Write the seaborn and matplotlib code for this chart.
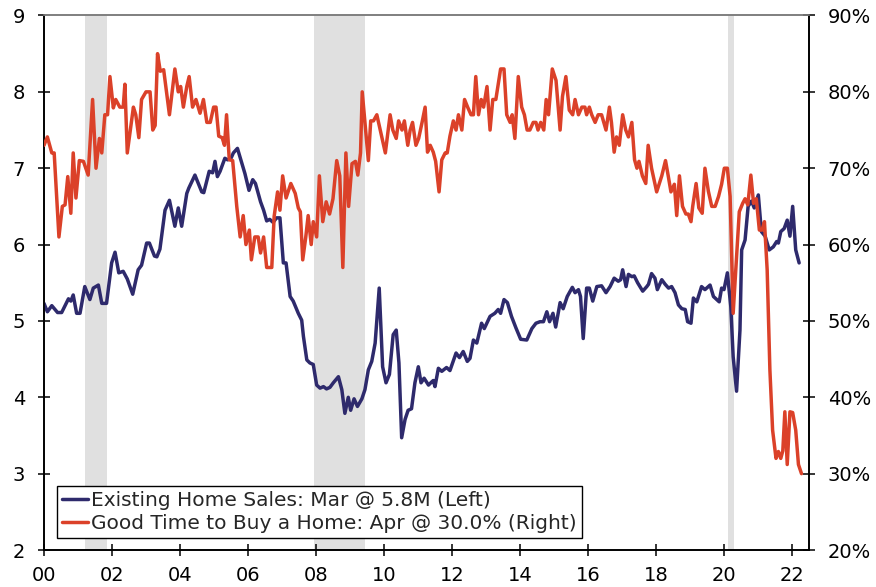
import matplotlib
matplotlib.use("Agg")
import matplotlib.pyplot as plt
import seaborn as sns

# Existing home sales, millions (left axis), by decimal year
SALES_YEAR = [
    2000.00, 2000.10, 2000.23, 2000.40, 2000.52, 2000.72, 2000.79, 2000.86, 2000.96, 2001.06,
    2001.20, 2001.35, 2001.45, 2001.60, 2001.70, 2001.84, 2001.99, 2002.09, 2002.20, 2002.33,
    2002.45, 2002.61, 2002.77, 2002.87, 2003.02, 2003.10, 2003.25, 2003.32, 2003.41, 2003.56,
    2003.69, 2003.85, 2003.95, 2004.05, 2004.20, 2004.26, 2004.44, 2004.64, 2004.70, 2004.86,
    2004.96, 2005.03, 2005.10, 2005.18, 2005.32, 2005.40, 2005.50, 2005.57, 2005.69, 2005.79,
    2005.91, 2006.03, 2006.14, 2006.22, 2006.37, 2006.46, 2006.55, 2006.64, 2006.74, 2006.84,
    2006.94, 2007.04, 2007.12, 2007.24, 2007.33, 2007.48, 2007.58, 2007.63, 2007.73, 2007.82,
    2007.92, 2008.02, 2008.12, 2008.22, 2008.31, 2008.41, 2008.51, 2008.66, 2008.76, 2008.85,
    2008.95, 2009.02, 2009.12, 2009.22, 2009.35, 2009.44, 2009.54, 2009.64, 2009.74, 2009.86,
    2009.96, 2010.06, 2010.16, 2010.27, 2010.36, 2010.44, 2010.52, 2010.62, 2010.71, 2010.81,
    2010.91, 2011.01, 2011.09, 2011.18, 2011.31, 2011.40, 2011.45, 2011.50, 2011.60, 2011.70,
    2011.84, 2011.94, 2012.12, 2012.22, 2012.33, 2012.45, 2012.53, 2012.63, 2012.73, 2012.87,
    2012.95, 2013.12, 2013.26, 2013.36, 2013.43, 2013.53, 2013.63, 2013.75, 2013.88, 2014.02,
    2014.20, 2014.35, 2014.47, 2014.59, 2014.69, 2014.79, 2014.87, 2014.97, 2015.05, 2015.18,
    2015.27, 2015.39, 2015.54, 2015.62, 2015.72, 2015.78, 2015.86, 2015.96, 2016.04, 2016.14,
    2016.26, 2016.40, 2016.53, 2016.65, 2016.77, 2016.89, 2016.96, 2017.02, 2017.12, 2017.19,
    2017.29, 2017.36, 2017.46, 2017.61, 2017.73, 2017.78, 2017.87, 2017.97, 2018.04, 2018.17,
    2018.27, 2018.37, 2018.46, 2018.56, 2018.66, 2018.76, 2018.86, 2018.93, 2019.03, 2019.10,
    2019.20, 2019.34, 2019.44, 2019.59, 2019.69, 2019.86, 2019.93, 2020.00, 2020.10, 2020.20,
    2020.27, 2020.37, 2020.47, 2020.52, 2020.62, 2020.71, 2020.81, 2020.89, 2021.01, 2021.10,
    2021.21, 2021.33, 2021.45, 2021.55, 2021.60, 2021.67, 2021.77, 2021.86, 2021.94, 2022.02,
    2022.11, 2022.21,
]
SALES_VALUE = [
    5.23, 5.12, 5.20, 5.11, 5.11, 5.29, 5.26, 5.34, 5.10, 5.10,
    5.45, 5.28, 5.43, 5.47, 5.23, 5.23, 5.76, 5.90, 5.63, 5.65,
    5.55, 5.35, 5.67, 5.73, 6.02, 6.02, 5.85, 5.84, 5.94, 6.45,
    6.58, 6.24, 6.48, 6.24, 6.67, 6.74, 6.91, 6.69, 6.68, 6.96,
    6.94, 7.09, 6.89, 6.96, 7.13, 7.11, 7.13, 7.20, 7.26, 7.11,
    6.93, 6.71, 6.85, 6.80, 6.56, 6.45, 6.31, 6.33, 6.29, 6.35,
    6.35, 5.76, 5.76, 5.32, 5.26, 5.10, 5.01, 4.80, 4.49, 4.45,
    4.43, 4.16, 4.12, 4.14, 4.11, 4.13, 4.19, 4.27, 4.10, 3.79,
    4.00, 3.83, 3.98, 3.88, 3.98, 4.10, 4.36, 4.47, 4.71, 5.43,
    4.40, 4.19, 4.30, 4.82, 4.88, 4.45, 3.47, 3.71, 3.83, 3.85,
    4.19, 4.40, 4.19, 4.25, 4.16, 4.20, 4.22, 4.14, 4.38, 4.34,
    4.39, 4.35, 4.58, 4.52, 4.60, 4.47, 4.51, 4.75, 4.71, 4.97,
    4.90, 5.06, 5.10, 5.15, 5.10, 5.28, 5.24, 5.06, 4.91, 4.76,
    4.75, 4.90, 4.97, 4.99, 4.99, 5.12, 4.99, 5.10, 4.92, 5.24,
    5.16, 5.32, 5.44, 5.37, 5.41, 5.32, 4.77, 5.43, 5.43, 5.26,
    5.45, 5.46, 5.37, 5.45, 5.56, 5.52, 5.54, 5.67, 5.45, 5.61,
    5.58, 5.59, 5.50, 5.39, 5.45, 5.48, 5.62, 5.56, 5.41, 5.54,
    5.48, 5.43, 5.45, 5.37, 5.21, 5.16, 5.15, 4.99, 4.97, 5.30,
    5.25, 5.45, 5.41, 5.47, 5.32, 5.25, 5.43, 5.41, 5.63, 5.19,
    4.53, 4.08, 4.88, 5.93, 6.06, 6.50, 6.57, 6.48, 6.65, 6.17,
    6.11, 5.93, 5.97, 6.04, 6.02, 6.17, 6.21, 6.32, 6.11, 6.50,
    5.93, 5.76,
]

# Share saying it is a good time to buy a home, % (right axis)
BUY_YEAR = [
    2000.00, 2000.10, 2000.23, 2000.30, 2000.44, 2000.54, 2000.62, 2000.70, 2000.79, 2000.86,
    2000.94, 2001.04, 2001.16, 2001.30, 2001.43, 2001.53, 2001.63, 2001.70, 2001.79, 2001.87,
    2001.94, 2002.04, 2002.11, 2002.23, 2002.33, 2002.38, 2002.45, 2002.63, 2002.70, 2002.79,
    2002.87, 2003.00, 2003.12, 2003.20, 2003.27, 2003.34, 2003.42, 2003.52, 2003.69, 2003.85,
    2003.95, 2004.02, 2004.10, 2004.20, 2004.27, 2004.37, 2004.47, 2004.59, 2004.69, 2004.79,
    2004.89, 2004.99, 2005.06, 2005.14, 2005.24, 2005.31, 2005.37, 2005.45, 2005.55, 2005.67,
    2005.77, 2005.86, 2005.94, 2006.04, 2006.10, 2006.20, 2006.30, 2006.37, 2006.46, 2006.55,
    2006.70, 2006.77, 2006.87, 2006.94, 2007.02, 2007.12, 2007.26, 2007.39, 2007.48, 2007.54,
    2007.61, 2007.70, 2007.77, 2007.86, 2007.92, 2008.02, 2008.10, 2008.20, 2008.30, 2008.40,
    2008.50, 2008.61, 2008.70, 2008.79, 2008.88, 2008.96, 2009.06, 2009.16, 2009.23, 2009.31,
    2009.36, 2009.44, 2009.54, 2009.61, 2009.69, 2009.79, 2009.89, 2010.04, 2010.18, 2010.26,
    2010.36, 2010.43, 2010.53, 2010.60, 2010.70, 2010.77, 2010.84, 2010.94, 2011.02, 2011.12,
    2011.21, 2011.28, 2011.36, 2011.45, 2011.52, 2011.62, 2011.70, 2011.80, 2011.86, 2011.94,
    2012.04, 2012.12, 2012.19, 2012.29, 2012.37, 2012.46, 2012.56, 2012.63, 2012.70, 2012.78,
    2012.86, 2012.93, 2013.03, 2013.12, 2013.20, 2013.29, 2013.43, 2013.53, 2013.61, 2013.71,
    2013.77, 2013.85, 2013.95, 2014.05, 2014.13, 2014.21, 2014.29, 2014.39, 2014.47, 2014.53,
    2014.61, 2014.70, 2014.77, 2014.84, 2014.95, 2015.06, 2015.18, 2015.25, 2015.35, 2015.45,
    2015.55, 2015.62, 2015.72, 2015.82, 2015.91, 2015.96, 2016.04, 2016.11, 2016.21, 2016.30,
    2016.40, 2016.53, 2016.63, 2016.69, 2016.77, 2016.84, 2016.92, 2017.02, 2017.11, 2017.19,
    2017.29, 2017.37, 2017.44, 2017.50, 2017.60, 2017.70, 2017.77, 2017.87, 2018.02, 2018.17,
    2018.28, 2018.36, 2018.44, 2018.54, 2018.61, 2018.69, 2018.78, 2018.88, 2018.95, 2019.03,
    2019.08, 2019.18, 2019.26, 2019.36, 2019.44, 2019.54, 2019.64, 2019.74, 2019.84, 2019.93,
    2020.01, 2020.10, 2020.18, 2020.27, 2020.35, 2020.45, 2020.55, 2020.62, 2020.70, 2020.79,
    2020.87, 2020.95, 2021.04, 2021.12, 2021.19, 2021.27, 2021.35, 2021.43, 2021.53, 2021.60,
    2021.67, 2021.73, 2021.79, 2021.86, 2021.94, 2022.02, 2022.11, 2022.19, 2022.28,
]
BUY_PCT = [
    73.0, 74.1, 72.0, 72.0, 61.0, 65.0, 65.2, 68.9, 64.1, 72.0,
    66.1, 71.0, 70.9, 69.1, 79.0, 70.0, 73.9, 72.0, 77.0, 77.0,
    82.0, 77.9, 79.0, 78.0, 78.0, 81.0, 72.0, 78.0, 77.0, 74.0,
    79.0, 80.0, 80.0, 75.0, 75.6, 85.0, 82.7, 82.9, 77.0, 83.0,
    80.0, 80.7, 78.0, 80.7, 82.0, 78.0, 79.0, 77.2, 79.0, 76.0,
    76.0, 78.0, 78.0, 74.2, 74.0, 73.0, 77.0, 71.1, 71.0, 65.0,
    61.0, 63.8, 60.0, 61.9, 58.0, 61.0, 61.0, 58.9, 61.0, 57.0,
    57.0, 63.7, 66.9, 64.5, 69.0, 66.1, 68.0, 66.7, 64.8, 64.3,
    58.0, 61.0, 63.8, 60.0, 63.0, 61.0, 69.0, 63.0, 65.6, 64.0,
    66.0, 71.0, 69.0, 57.0, 72.0, 65.0, 70.6, 70.9, 69.1, 72.0,
    80.0, 76.0, 71.0, 76.2, 76.2, 77.0, 75.0, 72.0, 77.0, 75.0,
    73.9, 76.2, 75.0, 76.2, 73.0, 75.0, 76.0, 73.0, 73.9, 76.0,
    78.0, 72.1, 73.0, 72.1, 70.9, 66.9, 71.1, 72.0, 72.0, 74.2,
    76.2, 75.0, 77.0, 75.0, 79.0, 78.0, 77.0, 77.0, 82.0, 77.0,
    79.0, 78.0, 80.7, 75.0, 79.0, 79.0, 83.0, 83.0, 77.0, 76.0,
    77.0, 73.9, 82.0, 78.0, 77.0, 75.0, 75.0, 76.0, 76.0, 75.0,
    76.0, 75.0, 79.0, 77.0, 83.0, 81.5, 75.0, 79.4, 82.0, 77.6,
    77.0, 79.0, 77.0, 78.0, 78.0, 77.0, 78.0, 77.0, 76.0, 77.0,
    77.0, 75.0, 78.0, 76.0, 72.1, 74.1, 73.0, 77.0, 75.0, 74.1,
    76.0, 71.1, 70.0, 70.9, 69.0, 68.0, 73.0, 70.0, 66.9, 69.0,
    71.0, 69.0, 66.9, 67.9, 63.8, 69.0, 65.0, 64.0, 64.0, 63.0,
    65.0, 68.0, 64.8, 64.1, 70.0, 67.0, 65.0, 65.0, 66.3, 67.9,
    70.0, 70.0, 66.3, 51.0, 57.0, 64.3, 65.4, 66.0, 65.2, 69.1,
    65.4, 66.0, 61.9, 61.9, 63.0, 56.7, 43.6, 35.7, 32.0, 32.9,
    32.0, 33.0, 38.1, 31.2, 38.1, 38.0, 35.7, 31.2, 30.0,
]

RECESSION_START = [2001.21, 2007.95, 2020.11]
RECESSION_END = [2001.86, 2009.44, 2020.28]

YEAR_TICKS = list(range(2000, 2023, 2))
LEFT_TICKS = [2, 3, 4, 5, 6, 7, 8, 9]
RIGHT_TICKS = [20, 30, 40, 50, 60, 70, 80, 90]

LABEL_SALES = "Existing Home Sales: Mar @ 5.8M (Left)"
LABEL_BUY = "Good Time to Buy a Home: Apr @ 30.0% (Right)"

NAVY = "#2E2A6C"
RED = "#DB4129"
SHADE = "#E0E0E0"

sns.set_style("ticks")
plt.rcParams["font.family"] = ["DejaVu Sans"]

fig = plt.figure(figsize=(8.76, 5.87), dpi=100)
ax = fig.add_axes([0.0502, 0.063, 0.8733, 0.9106])
ax2 = ax.twinx()

for start, end in zip(RECESSION_START, RECESSION_END):
    ax.axvspan(start, end, color=SHADE, lw=0, zorder=0)

sns.lineplot(x=SALES_YEAR, y=SALES_VALUE, ax=ax, color=NAVY, lw=2.5,
             label=LABEL_SALES, legend=False, zorder=3)
sns.lineplot(x=BUY_YEAR, y=BUY_PCT, ax=ax2, color=RED, lw=2.5,
             label=LABEL_BUY, legend=False, zorder=3)

ax.set_xlim(2000, 2022.5)
ax.set_ylim(2, 9)
ax2.set_ylim(20, 90)

ax.set_xticks(YEAR_TICKS)
ax.set_xticklabels([f"{y % 100:02d}" for y in YEAR_TICKS])
ax.set_yticks(LEFT_TICKS)
ax.set_yticklabels([str(v) for v in LEFT_TICKS])
ax2.set_yticks(RIGHT_TICKS)
ax2.set_yticklabels([f"{v}%" for v in RIGHT_TICKS])

ax.set_xlabel("")
ax.set_ylabel("")
ax2.set_ylabel("")

for a in (ax, ax2):
    a.tick_params(axis="both", direction="inout", length=9, width=1.1,
                  labelsize=14, colors="black", pad=9)
    for side in ("left", "right", "bottom"):
        a.spines[side].set_color("black")
        a.spines[side].set_linewidth(1.2)
        a.spines[side].set_visible(True)
    a.spines["top"].set_color("#7f7f7f")
    a.spines["top"].set_linewidth(1.2)
    a.spines["top"].set_visible(True)
ax.tick_params(axis="x", pad=7)

h1, l1 = ax.get_legend_handles_labels()
h2, l2 = ax2.get_legend_handles_labels()
leg = ax2.legend(h1 + h2, l1 + l2, loc="lower left", bbox_to_anchor=(0.017, 0.022),
                 borderaxespad=0, frameon=True, fancybox=False, framealpha=1,
                 edgecolor="black", fontsize=14.5, handlelength=1.3,
                 handletextpad=0.15, labelspacing=0.2, borderpad=0.25)
leg.get_frame().set_linewidth(1.0)

fig.savefig("out.png", dpi=100)
plt.close(fig)
